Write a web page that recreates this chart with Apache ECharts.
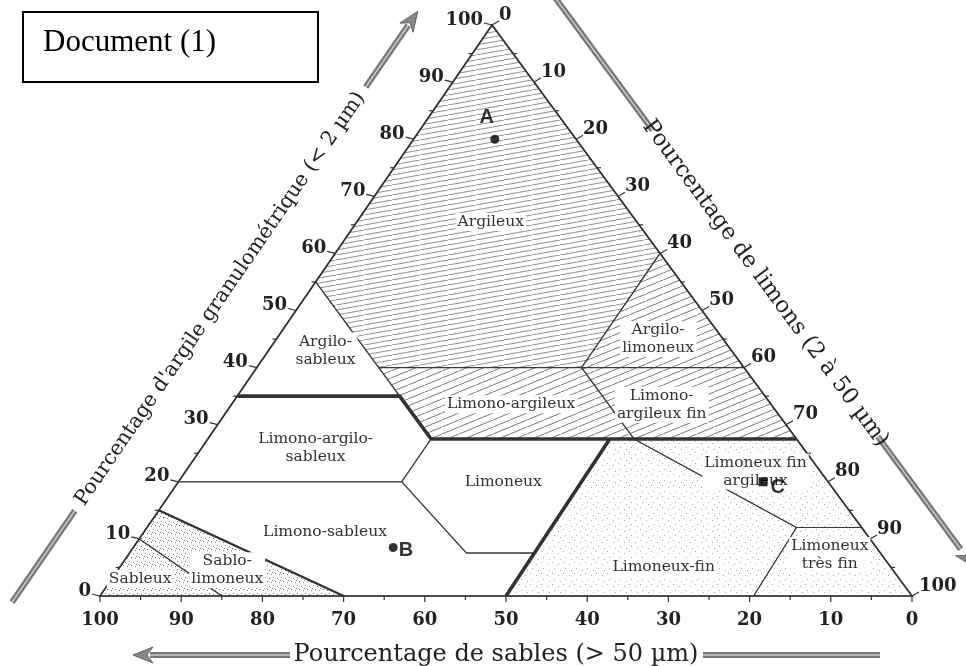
<!DOCTYPE html>
<html><head><meta charset="utf-8">
<script src="https://cdn.jsdelivr.net/npm/echarts@6/dist/echarts.min.js"></script>
<style>html,body{margin:0;padding:0;background:#fff}#c{width:966px;height:666px}</style>
</head><body><div id="c"></div>
<script>
// ---------- DATA (ternary: [sand %, clay %]; silt = 100 - sand - clay) ----------
const sandTicks = [100, 90, 80, 70, 60, 50, 40, 30, 20, 10, 0];
const clayTicks = [0, 10, 20, 30, 40, 50, 60, 70, 80, 90, 100];
const siltTicks = [0, 10, 20, 30, 40, 50, 60, 70, 80, 90, 100];

const regionNames = ['Argileux', 'Argilo-limoneux', 'Limono-argileux', 'Limono-argileux fin',
  'Argilo-sableux', 'Limono-argilo-sableux', 'Limoneux', 'Limono-sableux', 'Sablo-limoneux',
  'Sableux', 'Limoneux-fin', 'Limoneux fin argileux', 'Limoneux très fin'];
const regionText = ['Argileux', 'Argilo-\nlimoneux', 'Limono-argileux', 'Limono-\nargileux fin',
  'Argilo-\nsableux', 'Limono-argilo-\nsableux', 'Limoneux', 'Limono-sableux', 'Sablo-\nlimoneux',
  'Sableux', 'Limoneux-fin', 'Limoneux fin\nargileux', 'Limoneux\ntrès fin'];
const regionPolys = [
  [[45, 55], [0, 100], [0, 60], [20, 40], [45, 40]],
  [[0, 60], [20, 40], [0, 40]],
  [[45, 40], [20, 40], [20, 27.5], [45, 27.5]],
  [[20, 40], [0, 40], [0, 27.5], [20, 27.5]],
  [[45, 55], [45, 35], [65, 35]],
  [[65, 35], [45, 35], [45, 27.5], [52.5, 20], [80, 20]],
  [[45, 27.5], [23, 27.5], [42.5, 7.5], [51, 7.5], [52.5, 20]],
  [[80, 20], [52.5, 20], [51, 7.5], [42.5, 7.5], [50, 0], [70, 0], [85, 15]],
  [[85, 15], [70, 0], [85, 0], [90, 10]],
  [[90, 10], [85, 0], [100, 0]],
  [[23, 27.5], [20, 27.5], [8, 12], [19.5, 0], [50, 0]],
  [[20, 27.5], [0, 27.5], [0, 12], [8, 12]],
  [[8, 12], [0, 12], [0, 0], [19.5, 0]]
];
const regionLabelAt = [[18, 65.5], [8, 45], [32, 33.6], [13.5, 33.5], [50, 43], [60, 26],
  [40, 20], [66.5, 11.2], [82, 4.5], [93.5, 3], [28, 5], [8, 21.8], [6.4, 7.2]];

const thickBoundaries = [
  [[65, 35], [45, 35], [45, 27.5], [0, 27.5]],
  [[50, 0], [23, 27.5]]
];
const mediumBoundaries = [[[85, 15], [70, 0]]];

const sampleNames = ['A', 'B', 'C'];
const sampleSand = [10, 59.5, 8];
const sampleClay = [80, 8.5, 20];

// ---------- LAYOUT ----------
const Q = 0.4828; // horizontal position of the apex as share of the base
function toXY(p) { const sand = p[0], clay = p[1]; const silt = 100 - sand - clay; return [silt + Q * clay, clay]; }

const hatchKind = { 'Argileux': 'hatchA', 'Argilo-limoneux': 'hatchB', 'Limono-argileux': 'hatchB', 'Limono-argileux fin': 'hatchB',
  'Sablo-limoneux': 'dots', 'Sableux': 'dots', 'Limoneux-fin': 'dotsL', 'Limoneux fin argileux': 'dotsL', 'Limoneux très fin': 'dotsL' };

function hatch(w, h, color, lw) {
  const c = document.createElement('canvas'); c.width = w; c.height = h;
  const g = c.getContext('2d'); g.fillStyle = '#fff'; g.fillRect(0, 0, w, h);
  g.strokeStyle = color; g.lineWidth = lw;
  for (const dx of [-w, 0, w]) { g.beginPath(); g.moveTo(dx, h); g.lineTo(dx + w, 0); g.stroke(); }
  return { image: c, repeat: 'repeat' };
}
function dots(n, pts, color) {
  const c = document.createElement('canvas'); c.width = n; c.height = n;
  const g = c.getContext('2d'); g.fillStyle = '#fff'; g.fillRect(0, 0, n, n);
  g.fillStyle = color; pts.forEach(p => g.fillRect(p[0], p[1], 1, 1));
  return { image: c, repeat: 'repeat' };
}
const fills = {
  hatchA: hatch(28, 5, '#7a7a7a', 0.85),
  hatchB: hatch(17, 7, '#6a6a6a', 0.9),
  dots: dots(8, [[1, 1], [5, 2], [3, 5], [7, 6], [0, 4]], '#777'),
  dotsL: dots(11, [[2, 1], [8, 3], [4, 7], [10, 9]], '#aaa'),
  white: '#fff'
};

const serif = 'DejaVu Serif';
const chart = echarts.init(document.getElementById('c'), null, { renderer: 'canvas' });

function decor(params, api) {
  const P = p => api.coord(toXY(p));
  const ch = [];
  const BL = P([100, 0]), BR = P([0, 0]), T = P([0, 100]);
  ch.push({ type: 'polygon', shape: { points: [BL, T, BR] }, style: { fill: 'none', stroke: '#333', lineWidth: 1.6 } });
  const tickStyle = { stroke: '#333', lineWidth: 1.2 };
  for (let v = 0; v <= 100; v += 5) {
    const b = P([v, 0]);
    ch.push({ type: 'line', shape: { x1: b[0], y1: b[1], x2: b[0], y2: b[1] + (v % 10 === 0 ? 6 : 4) }, style: tickStyle });
    const l = P([100 - v, v]);
    ch.push({ type: 'line', shape: { x1: l[0], y1: l[1], x2: l[0] - (v % 10 === 0 ? 8 : 4), y2: l[1] - (v % 10 === 0 ? 2 : 0) }, style: tickStyle });
    const r = P([0, 100 - v]);
    ch.push({ type: 'line', shape: { x1: r[0], y1: r[1], x2: r[0] + (v % 10 === 0 ? 7 : 4), y2: r[1] - (v % 10 === 0 ? 4 : 0) }, style: tickStyle });
  }
  const numStyle = { font: 'bold 18px "' + serif + '"', fill: '#222' };
  sandTicks.forEach(v => { const b = P([v, 0]);
    ch.push({ type: 'text', x: b[0], y: b[1] + 24, style: Object.assign({ text: String(v), align: 'center', verticalAlign: 'middle' }, numStyle) }); });
  clayTicks.forEach(v => { const l = P([100 - v, v]);
    ch.push({ type: 'text', x: l[0] - 9, y: l[1] - 5, style: Object.assign({ text: String(v), align: 'right', verticalAlign: 'middle' }, numStyle) }); });
  siltTicks.forEach(v => { const r = P([0, 100 - v]);
    ch.push({ type: 'text', x: r[0] + 7, y: r[1] - 10, style: Object.assign({ text: String(v), align: 'left', verticalAlign: 'middle' }, numStyle) }); });

  const dl = Math.hypot(T[0] - BL[0], T[1] - BL[1]);
  const u = [(T[0] - BL[0]) / dl, (T[1] - BL[1]) / dl], n = [u[1], -u[0]];
  const dr = Math.hypot(BR[0] - T[0], BR[1] - T[1]);
  const w = [(BR[0] - T[0]) / dr, (BR[1] - T[1]) / dr], m = [w[1], -w[0]];
  const at = (o, a, s, b, t) => [o[0] + a[0] * s + b[0] * t, o[1] + a[1] * s + b[1] * t];
  const arrowLine = (p1, p2) => [
    { type: 'line', shape: { x1: p1[0], y1: p1[1], x2: p2[0], y2: p2[1] }, style: { stroke: '#777', lineWidth: 6, lineCap: 'butt' } },
    { type: 'line', shape: { x1: p1[0], y1: p1[1], x2: p2[0], y2: p2[1] }, style: { stroke: '#c8c8c8', lineWidth: 1.5, lineCap: 'butt' } }
  ];
  const head = (tip, dir) => { const nn = [-dir[1], dir[0]];
    return { type: 'polygon', shape: { points: [tip, at(tip, dir, -20, nn, 8), at(tip, dir, -14, nn, 0), at(tip, dir, -20, nn, -8)] }, style: { fill: '#888', stroke: '#666', lineWidth: 1 } }; };
  // left
  ch.push(...arrowLine(at(BL, u, -55, n, 69), at(BL, u, 56, n, 69)));
  ch.push(...arrowLine(at(BL, u, 570, n, 69), at(BL, u, 645, n, 69)));
  ch.push(head(at(BL, u, 662, n, 69), u));
  const lc = at(BL, u, 313, n, 69);
  ch.push({ type: 'text', x: lc[0], y: lc[1], rotation: Math.atan2(-u[1], u[0]), style: { text: "Pourcentage d'argile granulométrique (< 2 µm)", font: '20.5px "' + serif + '"', fill: '#222', align: 'center', verticalAlign: 'middle' } });
  // right
  ch.push(...arrowLine(at(T, w, 10, m, 67), at(T, w, 180, m, 67)));
  ch.push(...arrowLine(at(T, w, 560, m, 67), at(T, w, 700, m, 67)));
  ch.push(head(at(T, w, 722, m, 67), w));
  const rc = at(T, w, 370, m, 67);
  ch.push({ type: 'text', x: rc[0], y: rc[1], rotation: Math.atan2(-w[1], w[0]), style: { text: 'Pourcentage de limons (2 à 50 µm)', font: '22.5px "' + serif + '"', fill: '#222', align: 'center', verticalAlign: 'middle' } });
  // bottom
  const by = BL[1] + 59;
  ch.push(...arrowLine([150, by], [290, by]));
  ch.push(head([133, by], [-1, 0]));
  ch.push(...arrowLine([703, by], [880, by]));
  ch.push({ type: 'text', x: 496, y: by, style: { text: 'Pourcentage de sables (> 50 µm)', font: '24px "' + serif + '"', fill: '#222', align: 'center', verticalAlign: 'middle' } });
  return { type: 'group', children: ch };
}

chart.setOption({
  animation: false,
  backgroundColor: '#fff',
  grid: { left: 100, right: 54, top: 25, bottom: 70 },
  xAxis: { type: 'value', min: 0, max: 100, show: false },
  yAxis: { type: 'value', min: 0, max: 100, show: false },
  graphic: [
    { type: 'rect', left: 22, top: 11, shape: { width: 295, height: 70 }, style: { fill: '#fff', stroke: '#000', lineWidth: 2 } },
    { type: 'text', left: 43, top: 27, style: { text: 'Document (1)', font: '31px "Liberation Serif"', fill: '#000' } }
  ],
  series: [
    { type: 'custom', coordinateSystem: 'cartesian2d', clip: false, silent: true,
      data: regionNames.map((nm, i) => [i]),
      renderItem: (params, api) => {
        const i = params.dataIndex;
        const pts = regionPolys[i].map(p => api.coord(toXY(p)));
        const f = fills[hatchKind[regionNames[i]] || 'white'];
        return { type: 'polygon', shape: { points: pts }, style: { fill: f, stroke: '#3a3a3a', lineWidth: 1.2, lineJoin: 'round' } };
      } },
    { type: 'custom', coordinateSystem: 'cartesian2d', clip: false, silent: true,
      data: thickBoundaries.concat(mediumBoundaries).map((b, i) => [i]),
      renderItem: (params, api) => {
        const i = params.dataIndex;
        const all = thickBoundaries.concat(mediumBoundaries);
        const pts = all[i].map(p => api.coord(toXY(p)));
        return { type: 'polyline', shape: { points: pts }, style: { fill: 'none', stroke: '#333', lineWidth: i < thickBoundaries.length ? 3.6 : 2.2, lineJoin: 'round' } };
      } },
    { type: 'custom', coordinateSystem: 'cartesian2d', clip: false, silent: true,
      data: [[0]], renderItem: decor },
    { type: 'custom', coordinateSystem: 'cartesian2d', clip: false, silent: true,
      data: regionText.map((t, i) => [i]),
      renderItem: (params, api) => {
        const i = params.dataIndex;
        const c = api.coord(toXY(regionLabelAt[i]));
        return { type: 'text', x: c[0], y: c[1], style: { text: regionText[i], font: '15.5px "' + serif + '"', fill: '#333', align: 'center', verticalAlign: 'middle', lineHeight: 18, backgroundColor: '#fff', padding: [0, 2] } };
      } },
    { type: 'scatter', symbolSize: 9, itemStyle: { color: '#000' },
      data: sampleNames.map((nm, i) => ({ name: nm, value: toXY([sampleSand[i], sampleClay[i]]), symbol: i === 2 ? 'rect' : 'circle',
        label: [{ position: 'top', offset: [-8, -2] }, { position: 'right', offset: [-4, 3] }, { position: 'right', offset: [-2, 6] }][i] })),
      label: { show: true, formatter: p => p.name, fontFamily: 'Liberation Sans', fontWeight: 'bold', fontSize: 20, color: '#000' },
      emphasis: { disabled: true } }
  ]
});
</script></body></html>
